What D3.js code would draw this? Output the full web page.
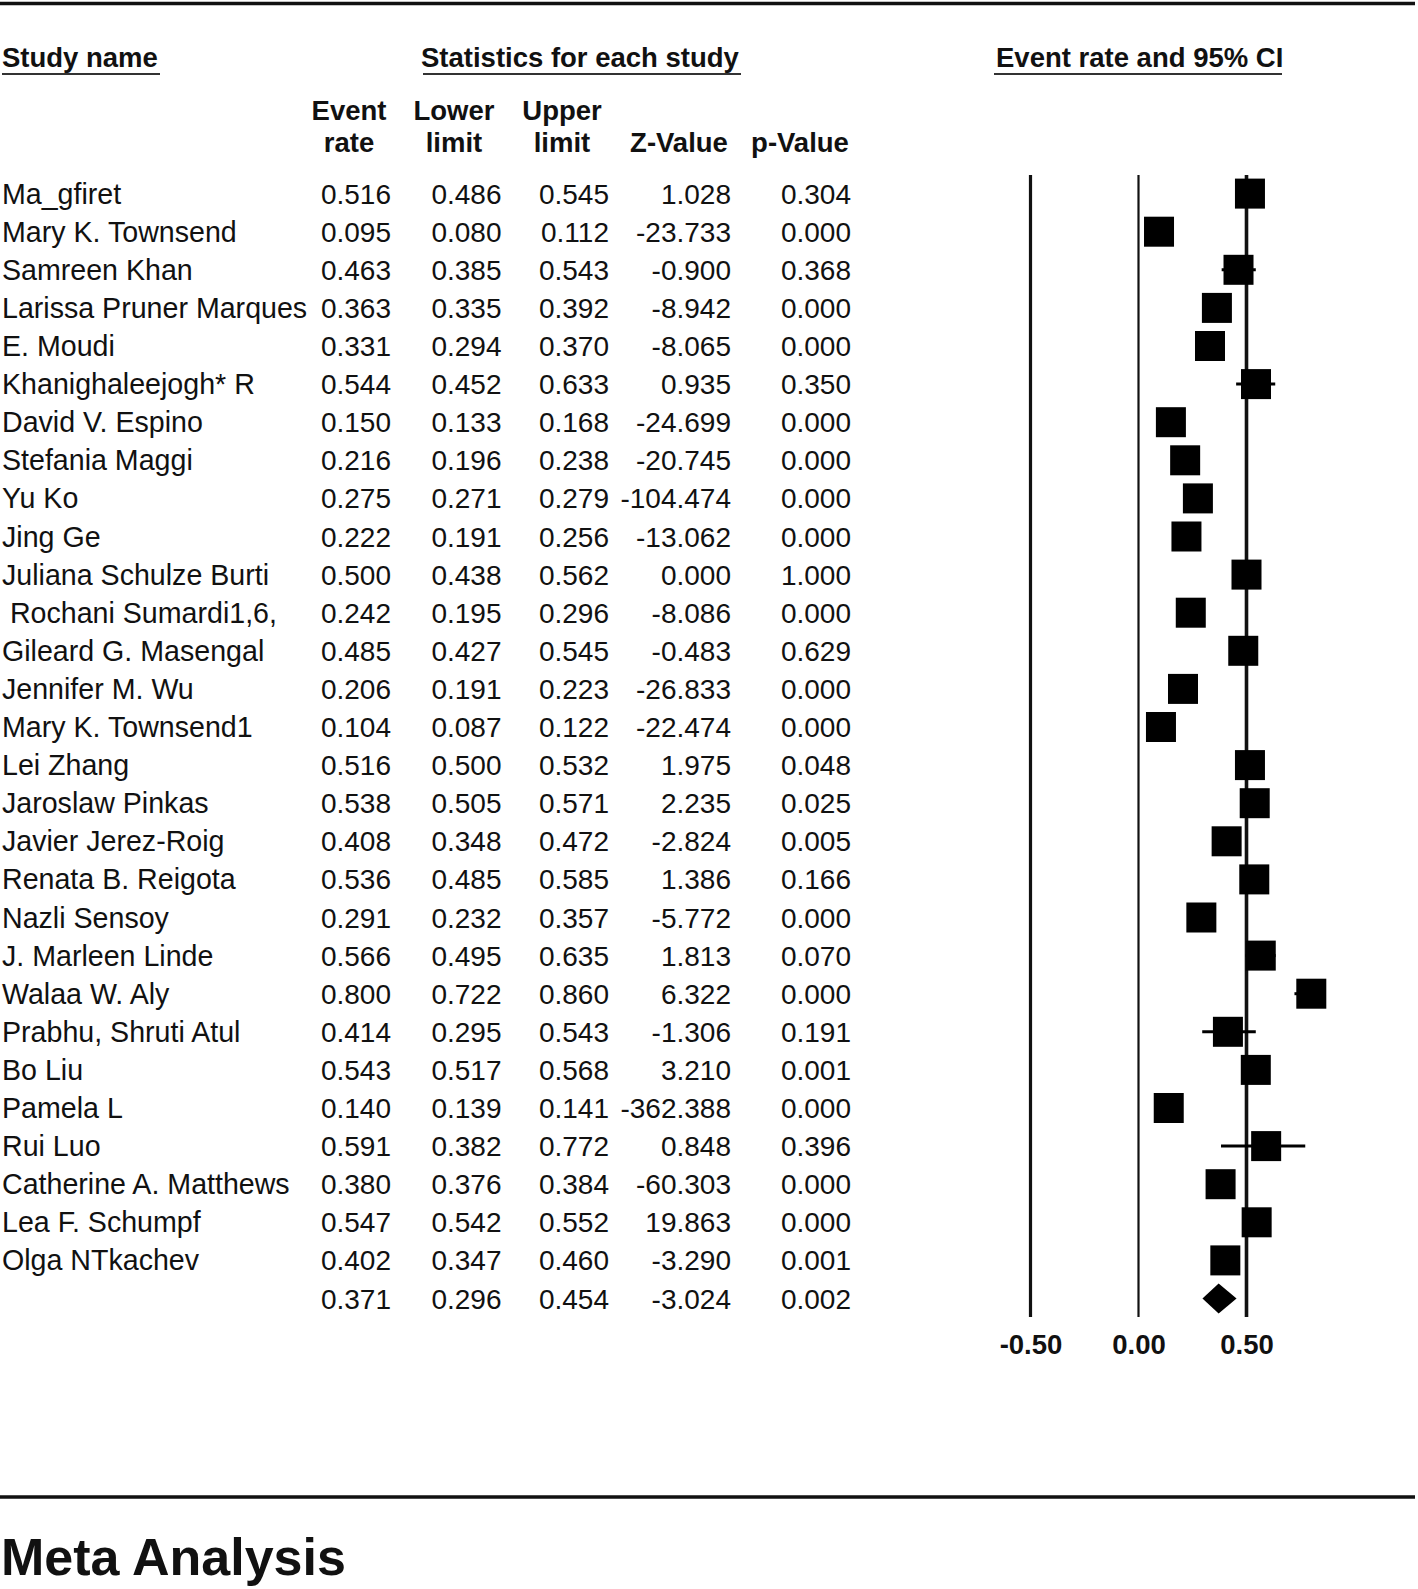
<!DOCTYPE html>
<html>
<head>
<meta charset="utf-8">
<script src="https://cdn.jsdelivr.net/npm/d3@7/dist/d3.min.js"></script>
<style>
  body { margin: 0; background: #fff; }
  text { font-family: Arial, "Liberation Sans", sans-serif; fill: #111; white-space: pre; }
</style>
</head>
<body>
<svg width="1418" height="1589"></svg>
<script>
// study rows, top to bottom
var studies = ["Ma_gfiret", "Mary K. Townsend", "Samreen Khan", "Larissa Pruner Marques", "E. Moudi",
  "Khanighaleejogh* R", "David V. Espino", "Stefania Maggi", "Yu Ko", "Jing Ge",
  "Juliana Schulze Burti", " Rochani Sumardi1,6,", "Gileard G. Masengal", "Jennifer M. Wu", "Mary K. Townsend1",
  "Lei Zhang", "Jaroslaw Pinkas", "Javier Jerez-Roig", "Renata B. Reigota", "Nazli Sensoy",
  "J. Marleen Linde", "Walaa W. Aly", "Prabhu, Shruti Atul", "Bo Liu", "Pamela L",
  "Rui Luo", "Catherine A. Matthews", "Lea F. Schumpf", "Olga NTkachev"];

var eventRate = [0.516, 0.095, 0.463, 0.363, 0.331, 0.544, 0.150, 0.216, 0.275, 0.222,
  0.500, 0.242, 0.485, 0.206, 0.104, 0.516, 0.538, 0.408, 0.536, 0.291,
  0.566, 0.800, 0.414, 0.543, 0.140, 0.591, 0.380, 0.547, 0.402];

var lowerLimit = [0.486, 0.080, 0.385, 0.335, 0.294, 0.452, 0.133, 0.196, 0.271, 0.191,
  0.438, 0.195, 0.427, 0.191, 0.087, 0.500, 0.505, 0.348, 0.485, 0.232,
  0.495, 0.722, 0.295, 0.517, 0.139, 0.382, 0.376, 0.542, 0.347];

var upperLimit = [0.545, 0.112, 0.543, 0.392, 0.370, 0.633, 0.168, 0.238, 0.279, 0.256,
  0.562, 0.296, 0.545, 0.223, 0.122, 0.532, 0.571, 0.472, 0.585, 0.357,
  0.635, 0.860, 0.543, 0.568, 0.141, 0.772, 0.384, 0.552, 0.460];

var zValue = ["1.028", "-23.733", "-0.900", "-8.942", "-8.065", "0.935", "-24.699", "-20.745", "-104.474", "-13.062",
  "0.000", "-8.086", "-0.483", "-26.833", "-22.474", "1.975", "2.235", "-2.824", "1.386", "-5.772",
  "1.813", "6.322", "-1.306", "3.210", "-362.388", "0.848", "-60.303", "19.863", "-3.290"];

var pValue = ["0.304", "0.000", "0.368", "0.000", "0.000", "0.350", "0.000", "0.000", "0.000", "0.000",
  "1.000", "0.000", "0.629", "0.000", "0.000", "0.048", "0.025", "0.005", "0.166", "0.000",
  "0.070", "0.000", "0.191", "0.001", "0.000", "0.396", "0.000", "0.000", "0.001"];

// pooled estimate
var summary = {rate: 0.371, lower: 0.296, upper: 0.454, z: "-3.024", p: "0.002"};

var axisTicks = [-0.5, 0, 0.5];

var svg = d3.select("svg"),
  W = +svg.attr("width");

var fmt = d3.format(".3f");
var nRows = studies.length + 1;

var y = d3.scaleLinear().domain([0, nRows - 1]).range([193.6, 1298.5]);
var x = d3.scaleLinear().domain([-0.5, 0.5]).range([1030.5, 1246.5]);

// rules top and bottom
svg.append("line").attr("x1", 0).attr("x2", 1415).attr("y1", 3.5).attr("y2", 3.5)
  .attr("stroke", "#111").attr("stroke-width", 3.5);
svg.append("line").attr("x1", 0).attr("x2", 1415).attr("y1", 1497).attr("y2", 1497)
  .attr("stroke", "#111").attr("stroke-width", 3.5);

// group headers
var heads = [
  {t: "Study name", x: 2, x1: 2, x2: 160},
  {t: "Statistics for each study", x: 421, x1: 423, x2: 741},
  {t: "Event rate and 95% CI", x: 996, x1: 994, x2: 1282}
];
heads.forEach(function(h) {
  svg.append("text").attr("x", h.x).attr("y", 67)
    .attr("font-size", 27.5).attr("font-weight", "bold").text(h.t);
  svg.append("line").attr("x1", h.x1).attr("x2", h.x2).attr("y1", 74).attr("y2", 74)
    .attr("stroke", "#333").attr("stroke-width", 2);
});

// column headers
var colHeads = [
  {l1: "Event", l2: "rate", cx: 349},
  {l1: "Lower", l2: "limit", cx: 454},
  {l1: "Upper", l2: "limit", cx: 562},
  {l1: "", l2: "Z-Value", cx: 679},
  {l1: "", l2: "p-Value", cx: 800}
];
colHeads.forEach(function(c) {
  svg.append("text").attr("x", c.cx).attr("y", 120).attr("text-anchor", "middle")
    .attr("font-size", 27.5).attr("font-weight", "bold").text(c.l1);
  svg.append("text").attr("x", c.cx).attr("y", 152).attr("text-anchor", "middle")
    .attr("font-size", 27.5).attr("font-weight", "bold").text(c.l2);
});

// table body
var rows = studies.map(function(s, i) {
  return {name: s, rate: eventRate[i], lo: lowerLimit[i], hi: upperLimit[i], z: zValue[i], p: pValue[i], i: i};
});
var all = rows.concat([{name: "", rate: summary.rate, lo: summary.lower, hi: summary.upper, z: summary.z, p: summary.p, i: rows.length}]);

var cols = [
  {key: function(d) { return fmt(d.rate); }, x: 391},
  {key: function(d) { return fmt(d.lo); }, x: 501.5},
  {key: function(d) { return fmt(d.hi); }, x: 609},
  {key: function(d) { return d.z; }, x: 731},
  {key: function(d) { return d.p; }, x: 851}
];

var body = svg.append("g").attr("font-size", 28);

body.selectAll(".name").data(all).enter().append("text")
  .attr("class", "name")
  .attr("x", 2).attr("y", function(d) { return y(d.i) + 10; })
  .attr("font-size", 28.6)
  .text(function(d) { return d.name; });

cols.forEach(function(c) {
  body.selectAll(null).data(all).enter().append("text")
    .attr("x", c.x).attr("y", function(d) { return y(d.i) + 10; })
    .attr("text-anchor", "end")
    .text(c.key);
});

// forest plot reference lines
var widths = {"-0.5": 3.2, "0": 2.2, "0.5": 3.6};
svg.append("g").selectAll("line").data(axisTicks).enter().append("line")
  .attr("x1", function(d) { return x(d); }).attr("x2", function(d) { return x(d); })
  .attr("y1", 175).attr("y2", 1317)
  .attr("stroke", "#111")
  .attr("stroke-width", function(d) { return widths[String(d)]; });

// CIs and squares
var plot = svg.append("g");
plot.selectAll(".ci").data(rows).enter().append("line")
  .attr("class", "ci")
  .attr("x1", function(d) { return x(d.lo); }).attr("x2", function(d) { return x(d.hi); })
  .attr("y1", function(d) { return y(d.i); }).attr("y2", function(d) { return y(d.i); })
  .attr("stroke", "#000").attr("stroke-width", 3);

var sq = 30;
plot.selectAll(".sq").data(rows).enter().append("rect")
  .attr("class", "sq")
  .attr("x", function(d) { return x(d.rate) - sq / 2; })
  .attr("y", function(d) { return y(d.i) - sq / 2; })
  .attr("width", sq).attr("height", sq)
  .attr("fill", "#000");

// pooled diamond
var yc = y(rows.length);
plot.append("path")
  .attr("d", "M" + x(summary.lower) + "," + yc +
    "L" + x(summary.rate) + "," + (yc - 15) +
    "L" + x(summary.upper) + "," + yc +
    "L" + x(summary.rate) + "," + (yc + 15) + "Z")
  .attr("fill", "#000");

// axis labels (plain hyphen for negatives, like the original)
var tickFmt = function(d) { return d3.format(".2f")(d).replace("\u2212", "-"); };
var axis = svg.append("g").attr("transform", "translate(0,1334)")
  .call(d3.axisBottom(x).tickValues(axisTicks).tickFormat(tickFmt).tickSize(0));
axis.select(".domain").remove();
axis.selectAll("text")
  .attr("font-family", "Arial, 'Liberation Sans', sans-serif")
  .attr("font-size", 27.5).attr("font-weight", "bold").attr("fill", "#111")
  .attr("y", 0).attr("dy", "0.72em");

// footer title
svg.append("text").attr("x", 1).attr("y", 1575)
  .attr("font-size", 52).attr("font-weight", "bold").text("Meta Analysis");
</script>
</body>
</html>
